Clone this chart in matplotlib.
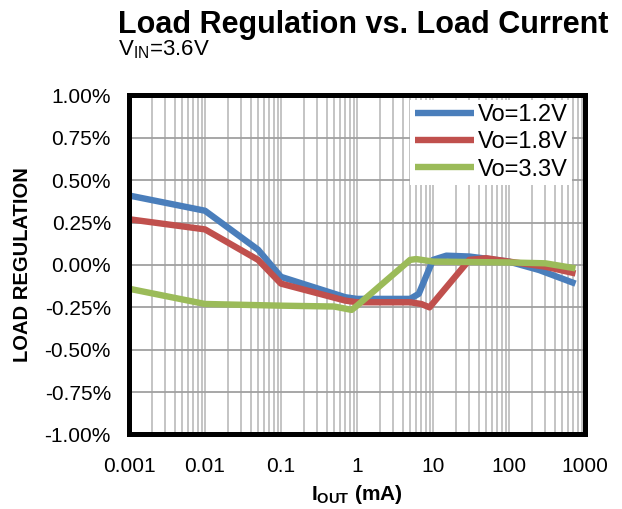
import matplotlib
matplotlib.use("Agg")
import matplotlib.pyplot as plt
from matplotlib.ticker import FixedLocator, LogLocator, NullFormatter, FuncFormatter

plt.rcParams['font.family'] = ['Liberation Sans', 'DejaVu Sans']
plt.rcParams['mathtext.fontset'] = 'custom'
plt.rcParams['mathtext.rm'] = 'Liberation Sans'
plt.rcParams['mathtext.bf'] = 'Liberation Sans:bold'

# load current (mA) and load regulation (%)
iout_12 = [0.001, 0.01, 0.05, 0.1, 0.7, 1, 5, 6.5, 10, 15, 30, 100, 250, 750]
reg_12 = [0.41, 0.32, 0.09, -0.07, -0.19, -0.20, -0.20, -0.17, 0.03, 0.055, 0.05, 0.02, -0.03, -0.11]

iout_18 = [0.001, 0.01, 0.05, 0.1, 0.7, 1, 5, 7, 9, 30, 50, 100, 300, 750]
reg_18 = [0.27, 0.21, 0.03, -0.11, -0.21, -0.22, -0.22, -0.23, -0.25, 0.03, 0.04, 0.02, -0.01, -0.05]

iout_33 = [0.001, 0.01, 0.1, 0.5, 0.85, 1, 5, 6, 10, 100, 300, 750]
reg_33 = [-0.14, -0.23, -0.24, -0.245, -0.265, -0.24, 0.03, 0.035, 0.02, 0.015, 0.01, -0.02]

labels = ["Vo=1.2V", "Vo=1.8V", "Vo=3.3V"]
colors = ["#4A7EBB", "#C0504D", "#9BBB59"]
y_ticks = [-1.0, -0.75, -0.5, -0.25, 0.0, 0.25, 0.5, 0.75, 1.0]
x_ticks = [0.001, 0.01, 0.1, 1, 10, 100, 1000]
x_tick_labels = ["0.001", "0.01", "0.1", "1", "10", "100", "1000"]

fig = plt.figure(figsize=(6.22, 5.09), dpi=100)
ax = fig.add_axes([0.2074, 0.1464, 0.7331, 0.666])

series = [(iout_12, reg_12), (iout_18, reg_18), (iout_33, reg_33)]
for (xs, ys), lab, col in zip(series, labels, colors):
    ax.plot(xs, ys, color=col, lw=4.6, label=lab, solid_capstyle='butt', zorder=3)

ax.set_xscale('log')
ax.set_xlim(0.001, 1000)
ax.set_ylim(-1.0, 1.0)

ax.xaxis.set_major_locator(FixedLocator(x_ticks))
ax.set_xticklabels(x_tick_labels)
ax.xaxis.set_minor_locator(LogLocator(base=10, subs=range(2, 10), numticks=20))
ax.xaxis.set_minor_formatter(NullFormatter())
ax.set_yticks(y_ticks)
ax.yaxis.set_major_formatter(FuncFormatter(lambda v, p: f"{v:.2f}%"))

ax.grid(True, which='both', axis='x', color='#B4B4B4', lw=1.1, zorder=0)
ax.grid(True, which='major', axis='y', color='#A0A0A0', lw=1.3, zorder=0)
ax.tick_params(which='both', length=0)
ax.tick_params(axis='y', labelsize=15, pad=13)
ax.tick_params(axis='x', labelsize=15, pad=16)
for s in ax.spines.values():
    s.set_linewidth(3.6)
    s.set_color('black')
    s.set_zorder(5)

leg = ax.legend(loc='upper right', bbox_to_anchor=(0.972, 0.988), fontsize=17,
                frameon=True, fancybox=False, handlelength=2.5, handletextpad=0.15,
                labelspacing=0.22, borderpad=0.2, borderaxespad=0.0)
leg.get_frame().set_linewidth(0)
leg.get_frame().set_facecolor('white')
leg.get_frame().set_alpha(1)
leg.set_zorder(6)

ax.set_ylabel("LOAD REGULATION", fontsize=14.5, fontweight='bold', labelpad=9)
ax.set_xlabel(r"$\mathbf{I_{OUT}}$ (mA)", fontsize=15, fontweight='bold', labelpad=5)

fig.text(0.19, 0.935, "Load Regulation vs. Load Current", fontsize=22,
         fontweight='bold', va='baseline', ha='left')
fig.text(0.19, 0.892, r"V$_{\mathregular{IN}}$=3.6V", fontsize=16, va='baseline', ha='left')

fig.savefig("out.png", dpi=100)
